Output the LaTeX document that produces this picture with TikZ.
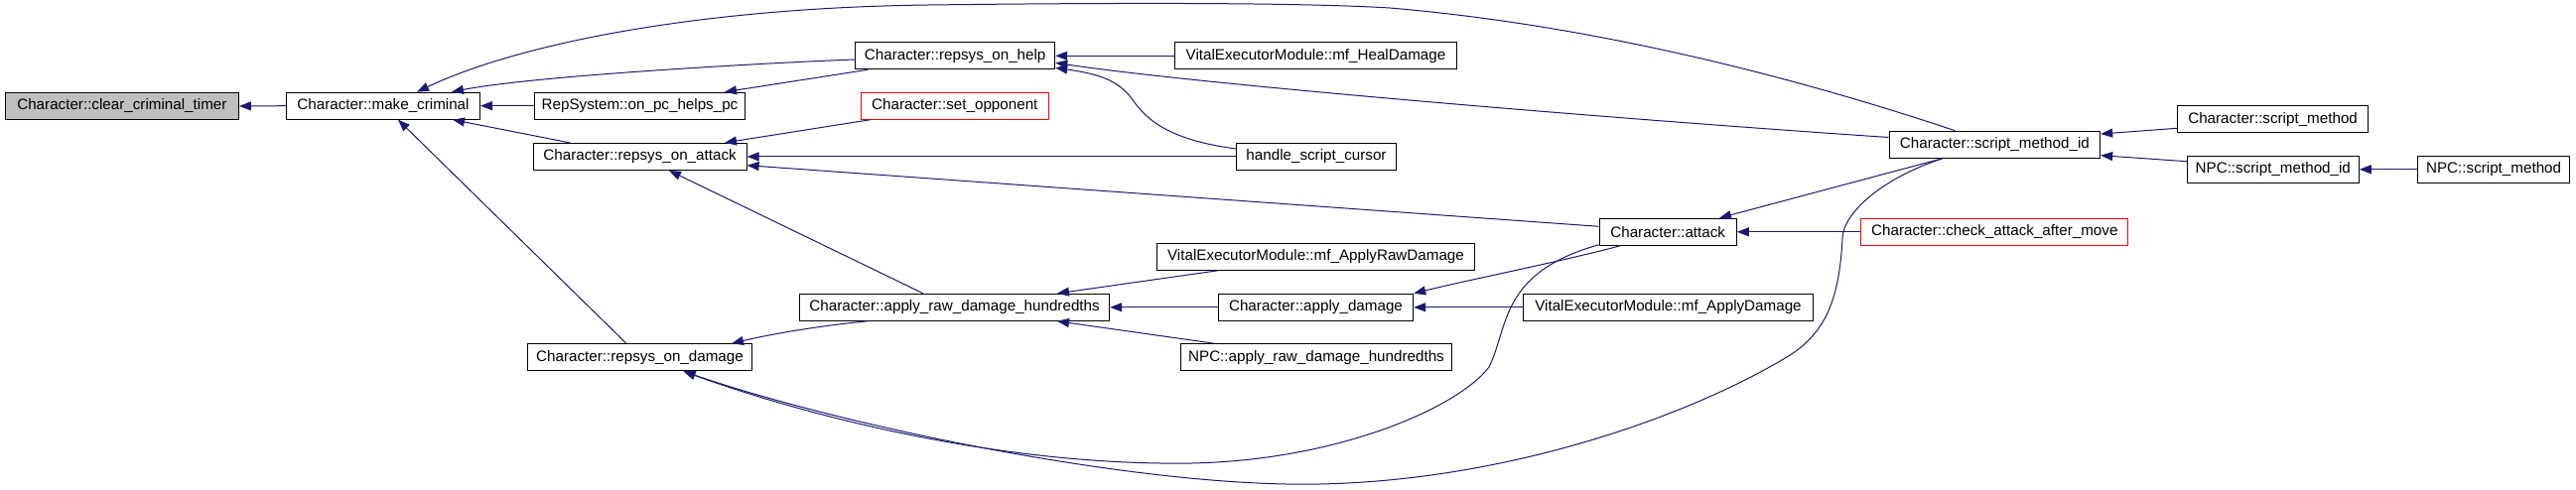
\documentclass[tikz,border=0pt]{standalone}
\usepackage{fontspec}
\newfontfamily\dgfont{Liberation Sans}
\usetikzlibrary{arrows.meta,calc}
\definecolor{edgeblue}{HTML}{191970}
\definecolor{boxgray}{HTML}{BFBFBF}
\begin{document}
\begin{tikzpicture}[x=1pt,y=-1pt,
  box/.style={draw=black, line width=1pt, fill=white, inner sep=0pt, minimum height=27pt, font=\dgfont\fontsize{15.2pt}{18pt}\selectfont},
  redbox/.style={box, draw=red},
  edge/.style={draw=edgeblue, line width=1pt, arrows={Triangle[length=12pt,width=9pt]-}}]
\useasboundingbox (0,0) rectangle (2595,494);
\fill[white] (0,0) rectangle (2595,494);
% nodes
\node[box,fill=boxgray,minimum width=235pt] (cct) at (122.9,107) {Character::clear\_criminal\_timer};
\node[box,minimum width=195pt] (mc) at (386,106.7) {Character::make\_criminal};
\node[box,minimum width=212.5pt] (rpp) at (644.5,106.7) {RepSystem::on\_pc\_helps\_pc};
\node[box,minimum width=215pt] (rsa) at (644.6,157.9) {Character::repsys\_on\_attack};
\node[box,minimum width=225.7pt] (rsd) at (644.5,360.3) {Character::repsys\_on\_damage};
\node[box,minimum width=201pt] (rsh) at (962.2,56.3) {Character::repsys\_on\_help};
\node[box,minimum width=284.2pt] (heal) at (1325.5,56.3) {VitalExecutorModule::mf\_HealDamage};
\node[redbox,minimum width=189.3pt] (setopp) at (961.8,106.7) {Character::set\_opponent};
\node[box,minimum width=161pt] (hsc) at (1326,157.9) {handle\_script\_cursor};
\node[box,minimum width=312.2pt] (ard) at (961.6,309.8) {Character::apply\_raw\_damage\_hundredths};
\node[box,minimum width=319.6pt] (rawdmg) at (1325.5,258.8) {VitalExecutorModule::mf\_ApplyRawDamage};
\node[box,minimum width=196.4pt] (ad) at (1325.5,309.8) {Character::apply\_damage};
\node[box,minimum width=273.1pt] (npcard) at (1326,360.2) {NPC::apply\_raw\_damage\_hundredths};
\node[box,minimum width=138.3pt] (attack) at (1680.2,233.8) {Character::attack};
\node[box,minimum width=212.6pt] (smid) at (2009.4,145.7) {Character::script\_method\_id};
\node[box,minimum width=291.7pt] (applydmg) at (1680.5,309.8) {VitalExecutorModule::mf\_ApplyDamage};
\node[box,minimum width=192.7pt] (csm) at (2289.6,120.3) {Character::script\_method};
\node[box,minimum width=173pt] (npcsmid) at (2289.8,170.8) {NPC::script\_method\_id};
\node[box,minimum width=153.4pt] (npcsm) at (2512.1,170.8) {NPC::script\_method};
\node[redbox,minimum width=268.7pt] (catm) at (2009.3,233.8) {Character::check\_attack\_after\_move};
% edges
\draw[edge] (cct.east) -- (mc.west);
\draw[edge] (mc.east) -- (rpp.west);
\draw[edge] ($(mc.north)+(69,0)$) .. controls (540,76) and (780,63) .. ($(rsh.west)+(0,3.7)$);
\draw[edge] ($(mc.north)+(34,0)$) .. controls (520,45) and (700,8) .. (935,5) .. controls (1100,3) and (1300,2) .. (1400,8) .. controls (1600,25) and (1800,75) .. ($(smid.north)+(-40,0)$);
\draw[edge] ($(mc.south)+(70,0)$) -- ($(rsa.north)+(-70.6,0)$);
\draw[edge] ($(mc.south)+(15,0)$) -- ($(rsd.north)+(-13.5,0)$);
\draw[edge] ($(rpp.north)+(85.5,0)$) -- ($(rsh.south)+(-88,0)$);
\draw[edge] ($(rsa.north)+(85.4,0)$) -- ($(setopp.south)+(-85,0)$);
\draw[edge] (rsa.east) -- (hsc.west);
\draw[edge] ($(rsa.east)+(0,8.8)$) -- ($(attack.west)+(0,-5.5)$);
\draw[edge] ($(rsa.south)+(29.4,0)$) -- ($(ard.north)+(-31.6,0)$);
\draw[edge] (rsh.east) -- (heal.west);
\draw[edge] ($(rsh.east)+(0,12)$) .. controls (1110,75) and (1128,82) .. (1142,102) .. controls (1158,125) and (1185,142) .. ($(hsc.west)+(0,-7.9)$);
\draw[edge] ($(rsh.east)+(0,7)$) .. controls (1200,84) and (1600,118) .. ($(smid.west)+(0,-7.2)$);
\draw[edge] ($(rsd.north)+(92.5,0)$) .. controls (780,336) and (830,328) .. ($(ard.south)+(-87.6,0)$);
\draw[edge] ($(rsd.south)+(44,0)$) .. controls (800,415) and (1000,470) .. (1200,467) .. controls (1350,464) and (1470,410) .. (1500,370) .. controls (1520,330) and (1510,275) .. ($(attack.south west)+(0,-1)$);
\draw[edge] ($(rsd.south)+(44,0)$) .. controls (850,430) and (1150,492) .. (1330,488) .. controls (1520,484) and (1700,420) .. (1800,360) .. controls (1840,336) and (1853,300) .. (1856,240) .. controls (1857,215) and (1895,180) .. ($(smid.south)+(-52.4,0)$);
\draw[edge] ($(ard.north)+(103.4,0)$) -- ($(rawdmg.south)+(-98.8,0)$);
\draw[edge] (ard.east) -- (ad.west);
\draw[edge] ($(ard.south)+(103.4,0)$) -- ($(npcard.north)+(-103,0)$);
\draw[edge] (ad.north east) .. controls (1480,282) and (1580,262) .. ($(attack.south)+(-48.2,0)$);
\draw[edge] (ad.east) -- (applydmg.west);
\draw[edge] (attack.east) -- (catm.west);
\draw[edge] ($(attack.north)+(51.8,0)$) -- ($(smid.south)+(-52.4,0)$);
\draw[edge] ($(smid.east)+(0,-10.7)$) -- ($(csm.west)+(0,9)$);
\draw[edge] ($(smid.east)+(0,11)$) -- ($(npcsmid.west)+(0,-8.1)$);
\draw[edge] (npcsmid.east) -- (npcsm.west);
\end{tikzpicture}
\end{document}
